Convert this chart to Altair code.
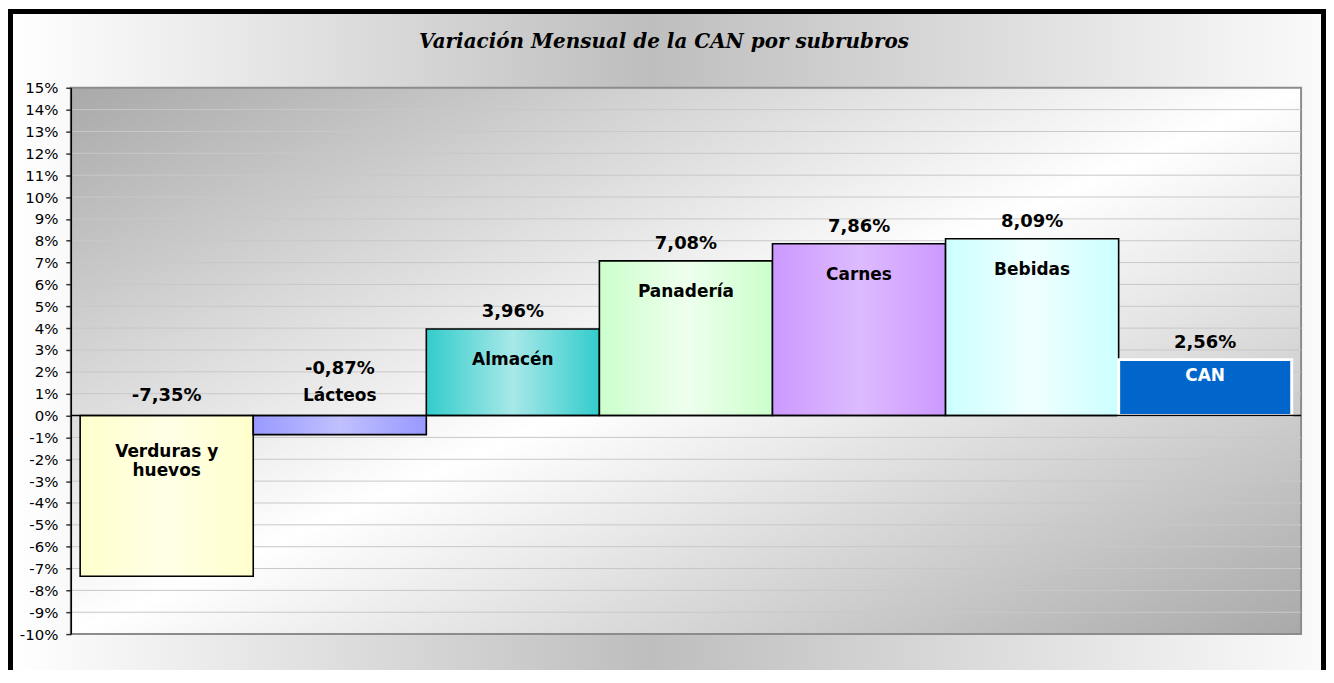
import altair as alt
import pandas as pd

# ---- data ----
categories = ["Verduras y huevos", "Lácteos", "Almacén", "Panadería", "Carnes", "Bebidas", "CAN"]
values = [-7.35, -0.87, 3.96, 7.08, 7.86, 8.09, 2.56]
y_ticks = list(range(-10, 16))
title_text = "Variación Mensual de la CAN por subrubros"

# ---- styles ----
edge_colors = {"Verduras y huevos": "#FFFFCC", "Lácteos": "#9999FF", "Almacén": "#33CCCC",
               "Panadería": "#CCFFCC", "Carnes": "#CC99FF", "Bebidas": "#CCFFFF", "CAN": "#0066CC"}
mid_colors = {"Verduras y huevos": "#FFFFE6", "Lácteos": "#C0C0FF", "Almacén": "#A8E8E8",
              "Panadería": "#EEFFEE", "Carnes": "#DDBBFF", "Bebidas": "#F0FFFF", "CAN": "#0066CC"}

W, H = 1234, 548
FONT = "DejaVu Sans"

df = pd.DataFrame({"cat": categories, "v": values})
df_one = pd.DataFrame({"k": [0]})
df_ticks = pd.DataFrame({"t": y_ticks})

y_scale = alt.Scale(domain=[-10, 15], nice=False, zero=False)
yax = alt.Axis(values=y_ticks, labelExpr="datum.value + '%'", grid=False,
               domainColor="black", domainWidth=1.5,
               tickColor="#333333", tickSize=5, tickWidth=1.5,
               labelFont=FONT, labelFontSize=15, labelColor="black",
               labelPadding=8, title=None, zindex=1)


def Yf(field):
    return alt.Y(field, type="quantitative", scale=y_scale, axis=yax)


def Yd(val):
    return alt.YDatum(datum=val, type="quantitative", scale=y_scale, axis=yax)


x_enc = alt.X("cat:N", sort=categories,
              scale=alt.Scale(domain=categories, paddingInner=0, paddingOuter=0.054),
              axis=None)


def hgrad(c0, c1, c2, mid=0.5):
    return alt.LinearGradient(
        gradient="linear", x1=0, x2=1, y1=0, y2=0,
        stops=[alt.GradientStop(color=c0, offset=0),
               alt.GradientStop(color=c1, offset=mid),
               alt.GradientStop(color=c2, offset=1)])


# outer chart background with black frame
outer = alt.Chart(df_one).mark_rect(
    fill=hgrad("#FFFFFF", "#BEBEBE", "#FAFAFA", 0.487),
    stroke="black", strokeWidth=5
).encode(x=alt.value(-60.5), x2=alt.value(W + 22.5),
         y=alt.value(-76.5), y2=alt.value(H + 90))

# plot area with diagonal gradient
plot_bg = alt.Chart(df_one).mark_rect(
    fill=alt.LinearGradient(
        gradient="linear", x1=0, y1=0, x2=1, y2=1,
        stops=[alt.GradientStop(color="#A9A9A9", offset=0),
               alt.GradientStop(color="#FFFFFF", offset=0.5),
               alt.GradientStop(color="#A9A9A9", offset=1)]),
    stroke="#8C8C8C", strokeWidth=2
).encode(x=alt.value(0), x2=alt.value(W), y=Yd(15), y2=alt.datum(-10))

# gridlines
grid = alt.Chart(df_ticks).transform_filter(
    "datum.t > -10 && datum.t < 15"
).mark_rule(color="#C8C8C8", strokeWidth=1).encode(y=Yf("t"))

# bars
bar_layers = []
for c in categories:
    is_total = c == "CAN"
    layer = alt.Chart(df).transform_filter(alt.datum.cat == c).mark_bar(
        fill=hgrad(edge_colors[c], mid_colors[c], edge_colors[c]),
        stroke="white" if is_total else "black",
        strokeWidth=3 if is_total else 1.6
    ).encode(x=x_enc, y=Yf("v"), y2=alt.datum(0))
    bar_layers.append(layer)

zero_line = alt.Chart(df_one).mark_rule(color="black", strokeWidth=1.5).encode(y=Yd(0))

base_txt = alt.Chart(df).transform_calculate(
    lbl="(datum.v < 0 ? '-' : '') + replace(format(abs(datum.v), '.2f'), '.', ',') + '%'",
    name="replace(datum.cat, ' y ', ' y\\n')"
)

txt_kw = dict(font=FONT, fontWeight="bold", baseline="middle", align="center", color="black")
VAL_FS, CAT_FS = 18, 17

val_pos = base_txt.transform_filter("datum.v >= 0").mark_text(
    fontSize=VAL_FS, dy=-17, **txt_kw
).encode(x=x_enc, y=Yf("v"), text="lbl:N")

val_neg_big = base_txt.transform_filter("datum.v < -2").mark_text(
    fontSize=VAL_FS, dy=-20, **txt_kw
).encode(x=x_enc, y=Yd(0), text="lbl:N")

val_neg_small = base_txt.transform_filter("datum.v < 0 && datum.v >= -2").mark_text(
    fontSize=VAL_FS, dy=-47, **txt_kw
).encode(x=x_enc, y=Yd(0), text="lbl:N")

cat_pos = base_txt.transform_filter("datum.v > 0 && datum.cat != 'CAN'").mark_text(
    fontSize=CAT_FS, dy=31, **txt_kw
).encode(x=x_enc, y=Yf("v"), text="name:N")

txt_kw_w = dict(txt_kw)
txt_kw_w["color"] = "white"
cat_total = base_txt.transform_filter("datum.cat == 'CAN'").mark_text(
    fontSize=CAT_FS, dy=16, **txt_kw_w
).encode(x=x_enc, y=Yf("v"), text="name:N")

cat_neg_big = base_txt.transform_filter("datum.v < -2").mark_text(
    fontSize=CAT_FS, dy=37, lineBreak="\n", lineHeight=19, **txt_kw
).encode(x=x_enc, y=Yd(0), text="name:N")

cat_neg_small = base_txt.transform_filter("datum.v < 0 && datum.v >= -2").mark_text(
    fontSize=CAT_FS, dy=-20, **txt_kw
).encode(x=x_enc, y=Yd(0), text="name:N")

chart = alt.layer(
    outer, plot_bg, grid, *bar_layers, zero_line,
    val_pos, val_neg_big, val_neg_small, cat_pos, cat_total, cat_neg_big, cat_neg_small
).properties(
    width=W, height=H,
    autosize=alt.AutoSizeParams(type="none"),
    padding={"left": 63, "top": 79, "right": 25, "bottom": 35},
    title=alt.TitleParams(text=title_text, font="DejaVu Serif", fontSize=20,
                          fontStyle="italic", fontWeight="bold", color="black",
                          anchor="middle", frame="group", dx=-22, offset=0, dy=43),
    background="white"
).configure_view(stroke=None)

chart.save("out.html", embed_options={"renderer": "svg", "actions": False})
